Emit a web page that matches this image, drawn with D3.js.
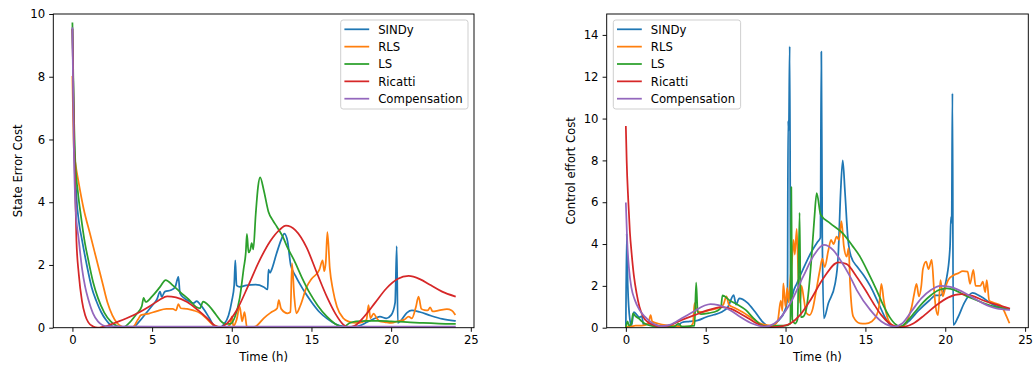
<!DOCTYPE html>
<html>
<head>
<meta charset="utf-8">
<script src="https://cdn.jsdelivr.net/npm/d3@7"></script>
<style>
  html, body { margin: 0; padding: 0; background: #fff; }
  svg { display: block; }
  text { font-family: "DejaVu Sans", sans-serif; fill: #000; }
</style>
</head>
<body>
<svg id="fig" width="1035" height="367"></svg>
<script>
// ---- data: [time (h), cost] ----
const seriesNames = ["SINDy", "RLS", "LS", "Ricatti", "Compensation"];
const seriesColors = ["#1f77b4", "#ff7f0e", "#2ca02c", "#d62728", "#9467bd"];
const xTicks = [0, 5, 10, 15, 20, 25];
const stateTicks = [0, 2, 4, 6, 8, 10];
const controlTicks = [0, 2, 4, 6, 8, 10, 12, 14];

// State error cost
const stateSINDy = [[0,9.5],[0.1,6.2],[0.25,4.2],[0.4,3.4],[0.6,2.8],[0.9,2.0],[1.2,1.3],[1.5,0.85],[1.8,0.5],[2.1,0.25],[2.4,0.08],[2.7,0.01],[3.2,0.0],[3.8,0.02],[4.2,0.2],[4.6,0.45],[5.0,0.7],[5.3,0.9],[5.5,1.15],[5.6,0.98],[5.8,1.15],[6.2,1.2],[6.45,1.3],[6.65,1.62],[6.75,1.1],[7.0,0.95],[7.3,0.85],[7.6,0.78],[7.8,0.85],[8.0,0.75],[8.3,0.55],[8.6,0.3],[8.9,0.05],[9.2,0.0],[9.5,0.1],[9.8,0.4],[10.0,0.85],[10.15,1.35],[10.22,2.15],[10.3,1.35],[10.5,1.3],[10.9,1.35],[11.5,1.37],[12.0,1.3],[12.25,1.22],[12.3,1.85],[12.4,1.75],[12.5,1.85],[12.8,2.35],[13.1,2.8],[13.3,3.0],[13.5,2.75],[13.7,2.0],[14.0,1.65],[14.5,1.2],[15.0,0.82],[15.5,0.5],[16.0,0.28],[16.5,0.12],[17.0,0.04],[17.5,0.02],[18.0,0.06],[18.5,0.18],[19.0,0.3],[19.3,0.35],[19.7,0.3],[20.0,0.4],[20.25,0.8],[20.35,2.6],[20.42,0.15],[20.6,0.22],[21.0,0.48],[21.3,0.55],[21.8,0.5],[22.5,0.38],[23.2,0.28],[24.0,0.22]];
const stateRLS = [[0,8.0],[0.1,5.6],[0.2,5.2],[0.4,4.6],[0.7,3.8],[1.1,3.0],[1.4,2.4],[1.6,2.0],[1.9,1.4],[2.2,0.8],[2.5,0.4],[2.8,0.15],[3.1,0.04],[3.4,0.0],[3.8,0.02],[4.1,0.25],[4.3,0.4],[4.8,0.45],[5.3,0.53],[5.9,0.6],[6.3,0.6],[6.5,0.55],[6.65,0.75],[6.8,0.62],[7.2,0.6],[7.6,0.55],[8.0,0.47],[8.4,0.3],[8.8,0.1],[9.2,0.03],[9.6,0.0],[9.9,0.1],[10.0,0.35],[10.1,0.05],[10.3,0.25],[10.5,0.67],[10.65,0.2],[10.8,0.5],[10.95,0.02],[11.3,0.0],[11.6,0.08],[12.0,0.3],[12.5,0.5],[12.85,0.62],[12.95,0.88],[13.1,0.6],[13.5,0.46],[13.68,0.5],[13.78,2.05],[13.92,1.0],[14.05,0.46],[14.3,0.7],[14.7,1.3],[15.0,1.55],[15.5,1.85],[15.7,2.15],[15.8,1.8],[15.9,2.1],[16.0,3.05],[16.15,1.9],[16.35,1.2],[16.6,0.67],[17.0,0.3],[17.3,0.2],[17.8,0.15],[18.2,0.18],[18.45,0.25],[18.58,0.72],[18.7,0.3],[18.9,0.45],[19.1,0.3],[19.3,0.2],[19.6,0.18],[20.0,0.15],[20.5,0.22],[20.8,0.25],[21.1,0.35],[21.3,0.3],[21.55,0.65],[21.72,0.99],[21.9,0.6],[22.1,0.56],[22.3,0.55],[22.45,0.65],[22.6,0.52],[23.0,0.55],[23.5,0.59],[23.8,0.55],[24.0,0.43]];
const stateLS = [[0,9.7],[0.08,7.2],[0.18,5.3],[0.35,4.3],[0.55,3.5],[0.75,2.8],[1.0,2.15],[1.3,1.45],[1.6,0.95],[2.0,0.48],[2.4,0.2],[2.8,0.05],[3.1,0.0],[3.5,0.12],[4.0,0.42],[4.35,0.68],[4.47,0.95],[4.6,0.82],[5.0,1.0],[5.5,1.3],[5.85,1.52],[6.3,1.35],[6.8,1.12],[7.3,0.9],[7.8,0.65],[8.0,0.62],[8.2,0.83],[8.6,0.68],[9.0,0.42],[9.3,0.22],[9.6,0.12],[9.9,0.12],[10.2,0.35],[10.5,0.95],[10.75,1.9],[10.88,2.4],[10.95,2.99],[11.05,2.4],[11.16,2.48],[11.25,2.7],[11.35,2.5],[11.5,3.6],[11.65,4.5],[11.78,4.79],[12.0,4.4],[12.3,3.7],[12.6,3.4],[12.83,3.22],[13.2,2.9],[13.5,2.55],[13.9,2.16],[14.4,1.6],[14.9,1.1],[15.4,0.7],[15.97,0.35],[16.5,0.12],[17.0,0.02],[17.4,0.15],[17.8,0.2],[18.5,0.22],[19.3,0.22],[20.0,0.2],[21.0,0.18],[22.0,0.15],[23.0,0.13],[24.0,0.12]];
const stateRicatti = [[0,9.5],[0.1,6.0],[0.25,2.8],[0.4,1.7],[0.6,0.85],[0.8,0.4],[1.0,0.17],[1.3,0.04],[1.6,0.0],[1.75,0.01],[2.2,0.06],[2.6,0.14],[3.4,0.3],[4.26,0.51],[4.9,0.7],[5.5,0.9],[5.94,1.0],[6.5,0.97],[7.2,0.82],[7.9,0.55],[8.5,0.28],[8.9,0.08],[9.3,0.01],[9.7,0.14],[10.3,0.55],[11.0,1.3],[11.7,2.1],[12.4,2.75],[13.0,3.12],[13.4,3.25],[14.0,3.1],[14.7,2.55],[15.3,1.8],[16.0,0.95],[16.5,0.45],[17.0,0.1],[17.3,0.02],[17.7,0.06],[18.3,0.35],[19.0,0.8],[19.7,1.25],[20.4,1.55],[21.1,1.65],[21.8,1.55],[22.5,1.35],[23.2,1.15],[24.0,1.0]];
const stateCompensation = [[0,9.55],[0.08,6.0],[0.2,3.8],[0.4,2.8],[0.6,1.9],[0.8,1.3],[1.0,0.9],[1.3,0.45],[1.6,0.2],[1.9,0.08],[2.3,0.04],[5.0,0.035],[10.0,0.035],[15.0,0.035],[20.0,0.035],[24.0,0.035]];

// Control effort cost
const ctrlSINDy = [[0,0.0],[0.05,4.5],[0.12,2.0],[0.25,0.4],[0.35,0.1],[0.5,0.75],[0.7,0.6],[0.85,0.5],[1.0,0.55],[1.1,0.15],[1.5,0.2],[2.0,0.1],[2.5,0.05],[3.2,0.05],[3.5,0.25],[4.0,0.3],[4.5,0.35],[5.0,0.5],[5.5,0.62],[6.0,0.75],[6.4,1.0],[6.75,1.56],[6.9,1.1],[7.1,1.4],[7.6,1.2],[8.1,0.75],[8.6,0.25],[9.0,0.05],[9.5,0.3],[10.0,0.9],[10.12,1.5],[10.16,9.9],[10.2,9.4],[10.26,13.45],[10.32,0.5],[10.45,1.6],[10.7,2.1],[11.1,2.8],[11.6,3.6],[12.0,4.1],[12.18,4.3],[12.24,13.2],[12.3,4.3],[12.4,0.45],[12.68,1.17],[13.1,2.1],[13.3,3.5],[13.45,6.5],[13.58,8.0],[13.72,6.5],[13.9,4.3],[14.1,3.4],[14.5,2.9],[14.9,2.5],[15.3,2.0],[15.8,1.2],[16.3,0.4],[16.7,0.05],[17.2,0.05],[17.7,0.3],[18.3,0.8],[19.0,1.3],[19.4,1.55],[19.7,1.55],[20.1,2.44],[20.3,3.9],[20.36,5.3],[20.4,5.0],[20.45,11.2],[20.5,0.13],[20.8,0.5],[21.2,1.2],[21.7,1.66],[22.2,1.5],[23.0,1.1],[24.0,0.9]];
const ctrlRLS = [[0,0.05],[0.3,0.05],[0.6,0.1],[1.0,0.1],[1.4,0.2],[1.55,0.6],[1.65,0.3],[2.0,0.2],[2.5,0.12],[3.0,0.1],[3.5,0.05],[4.0,0.05],[4.2,0.2],[4.3,1.17],[4.45,0.8],[4.8,0.75],[5.3,0.85],[5.8,0.95],[6.1,1.1],[6.3,1.5],[6.45,1.1],[6.8,0.95],[7.3,0.75],[7.8,0.5],[8.3,0.25],[8.8,0.12],[9.2,0.1],[9.5,0.3],[9.7,1.3],[9.8,0.8],[9.86,2.12],[10.0,1.0],[10.1,1.9],[10.2,1.2],[10.3,2.3],[10.4,3.2],[10.5,4.2],[10.58,3.5],[10.7,4.72],[10.8,2.5],[10.9,1.2],[11.0,2.0],[11.15,1.35],[11.3,0.7],[11.5,0.6],[11.7,0.9],[11.9,1.7],[12.15,2.76],[12.3,3.3],[12.45,2.9],[12.68,3.7],[12.85,4.2],[13.0,4.0],[13.2,4.35],[13.35,4.2],[13.5,5.1],[13.65,3.9],[13.83,3.4],[13.95,3.8],[14.04,2.12],[14.24,0.53],[14.66,0.21],[15.0,0.2],[15.4,0.3],[15.7,0.6],[15.85,1.0],[16.0,2.1],[16.15,1.3],[16.43,0.37],[16.7,0.12],[17.0,0.05],[17.4,0.1],[17.7,0.5],[17.9,1.0],[18.05,1.6],[18.2,2.1],[18.35,1.5],[18.5,2.0],[18.6,2.8],[18.8,3.16],[18.95,2.8],[19.15,3.24],[19.3,1.8],[19.4,1.0],[19.55,0.6],[19.7,2.28],[19.85,1.5],[20.0,1.9],[20.2,2.3],[20.5,2.5],[20.8,2.6],[21.1,2.7],[21.4,2.68],[21.55,2.1],[21.76,2.76],[21.9,2.0],[22.2,2.0],[22.35,2.2],[22.5,1.7],[22.6,2.28],[22.75,1.3],[23.0,1.2],[23.5,1.05],[23.8,0.6],[24.0,0.25]];
const ctrlLS = [[0,0.0],[0.1,0.3],[0.2,0.1],[0.35,0.2],[0.45,0.68],[0.6,0.55],[0.8,0.45],[1.0,0.3],[1.3,0.15],[1.7,0.08],[2.2,0.05],[3.0,0.05],[3.3,0.2],[3.5,0.05],[4.0,0.08],[4.3,0.1],[4.4,2.15],[4.5,0.75],[4.7,0.65],[5.2,0.7],[5.7,0.8],[5.95,0.95],[6.05,1.55],[6.5,1.3],[7.0,1.1],[7.5,0.85],[8.0,0.45],[8.5,0.12],[9.0,0.05],[9.5,0.1],[10.0,0.1],[10.3,0.2],[10.36,6.72],[10.42,0.4],[10.6,0.2],[10.75,0.4],[10.88,5.5],[10.95,0.5],[11.1,0.53],[11.3,0.9],[11.45,1.8],[11.6,3.1],[11.8,5.2],[11.95,6.43],[12.2,5.4],[12.78,5.0],[13.6,4.5],[14.2,3.9],[14.66,3.4],[15.2,2.6],[15.7,1.8],[16.1,1.1],[16.5,0.53],[16.9,0.15],[17.2,0.05],[17.6,0.3],[18.1,0.75],[18.6,1.2],[19.1,1.55],[19.6,1.8],[20.1,1.88],[20.6,1.8],[21.1,1.6],[22.0,1.3],[23.0,1.02],[24.0,0.9]];
const ctrlRicatti = [[0,9.6],[0.05,8.0],[0.15,6.1],[0.25,4.6],[0.36,3.56],[0.5,2.5],[0.67,1.65],[0.85,1.0],[1.08,0.53],[1.4,0.25],[1.7,0.13],[2.2,0.05],[2.7,0.1],[3.5,0.37],[4.3,0.6],[5.2,0.85],[6.0,0.98],[6.6,0.9],[7.2,0.65],[7.66,0.45],[8.2,0.2],[8.7,0.06],[9.2,0.03],[9.8,0.08],[10.3,0.2],[10.9,0.6],[11.5,1.25],[12.4,2.4],[13.3,3.12],[13.8,3.05],[14.45,2.44],[15.0,1.8],[15.5,1.17],[16.0,0.6],[16.5,0.21],[17.1,0.02],[17.5,0.05],[18.0,0.2],[18.7,0.6],[19.4,1.05],[20.2,1.45],[21.0,1.6],[21.7,1.52],[22.4,1.3],[23.2,1.1],[24.0,0.93]];
const ctrlCompensation = [[0,5.95],[0.08,4.2],[0.2,2.8],[0.35,1.9],[0.56,1.33],[0.85,0.85],[1.19,0.53],[1.6,0.25],[2.2,0.08],[2.8,0.15],[3.5,0.45],[4.3,0.8],[4.9,1.05],[5.3,1.13],[5.8,1.08],[6.5,0.85],[7.2,0.5],[7.9,0.2],[8.7,0.05],[9.3,0.2],[10.3,1.17],[11.1,2.44],[11.8,3.5],[12.4,3.96],[13.0,3.7],[13.5,3.15],[14.0,2.5],[14.46,1.8],[15.3,0.85],[16.0,0.3],[16.5,0.1],[16.8,0.05],[17.3,0.2],[17.9,0.8],[18.5,1.4],[19.1,1.8],[19.7,2.0],[20.3,1.95],[21.0,1.75],[21.7,1.45],[22.4,1.15],[23.2,0.92],[24.0,0.85]];

const stateSeries = [stateSINDy, stateRLS, stateLS, stateRicatti, stateCompensation];
const ctrlSeries = [ctrlSINDy, ctrlRLS, ctrlLS, ctrlRicatti, ctrlCompensation];

// ---- drawing ----
const FONT = 11.7;
const TICK = 4.1;
const svg = d3.select("#fig");

function drawPanel(cfg) {
  const { left, right, top, bottom, yMax, yTicks, series, yLabel, legendX, clipId } = cfg;
  const x = d3.scaleLinear().domain([-1.2, 25.2]).range([left, right]);
  const y = d3.scaleLinear().domain([0, yMax]).range([bottom, top]);
  const g = svg.append("g");

  g.append("clipPath").attr("id", clipId)
    .append("rect").attr("x", left).attr("y", top)
    .attr("width", right - left).attr("height", bottom - top);

  const line = d3.line()
    .x(d => x(d[0])).y(d => y(d[1]))
    .curve(d3.curveMonotoneX);

  const lines = g.append("g").attr("clip-path", `url(#${clipId})`);
  series.forEach((s, i) => {
    lines.append("path").datum(s)
      .attr("d", line)
      .attr("fill", "none")
      .attr("stroke", seriesColors[i])
      .attr("stroke-width", 1.75)
      .attr("stroke-linejoin", "round")
      .attr("stroke-linecap", "square");
  });

  // axes
  const xAxis = d3.axisBottom(x).tickValues(xTicks).tickFormat(d3.format("d"))
    .tickSize(TICK).tickPadding(4.1).tickSizeOuter(0);
  const yAxis = d3.axisLeft(y).tickValues(yTicks).tickFormat(d3.format("d"))
    .tickSize(TICK).tickPadding(4.1).tickSizeOuter(0);

  const gx = g.append("g").attr("transform", `translate(0,${bottom})`).call(xAxis);
  const gy = g.append("g").attr("transform", `translate(${left},0)`).call(yAxis);
  [gx, gy].forEach(a => {
    a.select(".domain").remove();
    a.selectAll(".tick line").attr("stroke", "#000").attr("stroke-width", 0.94);
    a.selectAll(".tick text").attr("font-size", FONT).attr("font-family", "DejaVu Sans").attr("fill", "#000");
  });

  // frame
  g.append("rect")
    .attr("x", left).attr("y", top)
    .attr("width", right - left).attr("height", bottom - top)
    .attr("fill", "none").attr("stroke", "#000").attr("stroke-width", 0.94);

  // axis labels
  g.append("text")
    .attr("x", (left + right) / 2).attr("y", 361)
    .attr("text-anchor", "middle").attr("font-size", FONT)
    .text("Time (h)");
  g.append("text")
    .attr("transform", `translate(${left - 31.5},${(top + bottom) / 2}) rotate(-90)`)
    .attr("text-anchor", "middle").attr("font-size", FONT)
    .text(yLabel);

  // legend
  const lg = g.append("g");
  lg.append("rect")
    .attr("x", legendX).attr("y", 20)
    .attr("width", 127.3).attr("height", 89)
    .attr("rx", 2.5).attr("ry", 2.5)
    .attr("fill", "#fff").attr("fill-opacity", 0.8)
    .attr("stroke", "#cccccc").attr("stroke-width", 0.94);
  seriesNames.forEach((name, i) => {
    const cy = 29.3 + i * 17.35;
    lg.append("line")
      .attr("x1", legendX + 3.7).attr("x2", legendX + 28.5)
      .attr("y1", cy).attr("y2", cy)
      .attr("stroke", seriesColors[i]).attr("stroke-width", 1.75);
    lg.append("text")
      .attr("x", legendX + 37.5).attr("y", cy)
      .attr("dy", "0.36em").attr("font-size", FONT)
      .text(name);
  });
}

drawPanel({
  left: 53.3, right: 474, top: 14, bottom: 327.7,
  yMax: 10, yTicks: stateTicks, series: stateSeries,
  yLabel: "State Error Cost", legendX: 340.7, clipId: "clipState"
});
drawPanel({
  left: 606.7, right: 1028.3, top: 14, bottom: 327.7,
  yMax: 15, yTicks: controlTicks, series: ctrlSeries,
  yLabel: "Control effort Cost", legendX: 613.3, clipId: "clipCtrl"
});
</script>
</body>
</html>
